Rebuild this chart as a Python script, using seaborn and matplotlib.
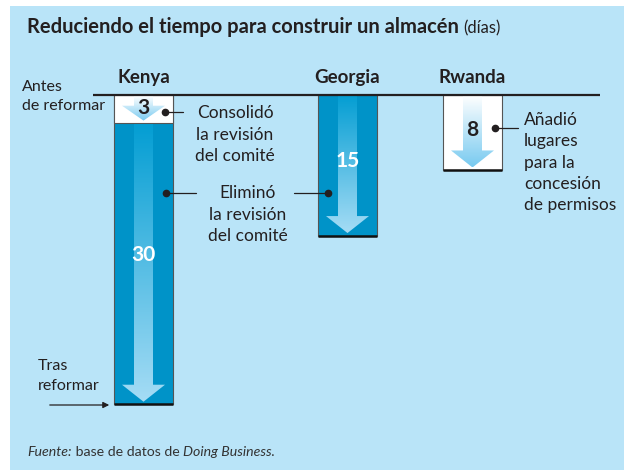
import matplotlib.pyplot as plt
import numpy as np
import pandas as pd
import seaborn as sns
from matplotlib.colors import LinearSegmentedColormap
from matplotlib.patches import Polygon, Rectangle

# Datos: días de cada trámite que se quitó con la reforma
paises = ["Kenya", "Georgia", "Rwanda"]
tramo_pais = ["Kenya", "Kenya", "Georgia", "Rwanda"]
tramo_reforma = ["Consolidó", "Eliminó", "Eliminó", "Añadió"]
tramo_dias = [3, 30, 15, 8]

titulo = "Reduciendo el tiempo para construir un almacén"
unidad = "(días)"

# Disposición (en píxeles de la figura)
W, H = 624, 470
Y0 = 95          # línea "Antes de reformar"
ESCALA = 9.37    # píxeles por día
centro_x = {"Kenya": 143.5, "Georgia": 347.5, "Rwanda": 472.5}
ANCHO = 59
colores = {"Eliminó": "#0093c8", "Consolidó": "white", "Añadió": "white"}
TINTA = "#231f20"


def dia(py):
    # píxel vertical -> días
    return (py - Y0) / ESCALA


df = pd.DataFrame({"pais": tramo_pais, "reforma": tramo_reforma, "dias": tramo_dias})
df["fin"] = df.groupby("pais")["dias"].cumsum()
df["inicio"] = df["fin"] - df["dias"]
df["x"] = df["pais"].map(centro_x)

sns.set_theme(style="white")
plt.rcParams["font.family"] = ["Lato", "DejaVu Sans"]

fig = plt.figure(figsize=(W / 100, H / 100), dpi=100)
fig.patch.set_facecolor("white")
fig.add_artist(Rectangle((10 / W, 0), 1, 1 - 6 / H, transform=fig.transFigure,
                         facecolor="#b9e4f8", edgecolor="none", zorder=0))

ax = fig.add_axes([0, 0, 1, 1])
ax.set_facecolor("none")

# Barras: primero el total por país, luego el tramo superior encima
paso = np.diff(sorted(centro_x.values())).min()
sns.barplot(data=df, x="x", y="fin", hue="reforma",
            hue_order=["Eliminó", "Consolidó", "Añadió"], palette=colores,
            native_scale=True, dodge=False, width=ANCHO / paso, saturation=1,
            errorbar=None, legend=False, edgecolor="#555555", linewidth=0.8,
            zorder=2, ax=ax)

# Flechas con degradado dentro de cada tramo
grad = np.linspace(0, 1, 200).reshape(-1, 1)
for _, r in df.iterrows():
    x = r["x"]
    top = Y0 + r["inicio"] * ESCALA + 1
    bot = Y0 + r["fin"] * ESCALA
    punta = bot - 2.5
    base = punta - min(17, 0.55 * (bot - top))
    pts = [(x - 9.5, top), (x + 9.5, top), (x + 9.5, base), (x + 21.5, base),
           (x, punta), (x - 21.5, base), (x - 9.5, base)]
    poly = Polygon([(px, dia(py)) for px, py in pts], closed=True,
                   facecolor="none", edgecolor="none", transform=ax.transData)
    ax.add_patch(poly)
    if r["reforma"] == "Eliminó":
        cmap = LinearSegmentedColormap.from_list("a", ["#049ed3", "#a5dcf5"])
    else:
        cmap = LinearSegmentedColormap.from_list("b", ["#ffffff", "#78caf0"])
    im = ax.imshow(grad, extent=[x - 22, x + 22, dia(punta), dia(top)],
                   origin="upper", cmap=cmap, aspect="auto", zorder=3,
                   interpolation="bilinear")
    im.set_clip_path(poly)

    color_num = "white" if r["reforma"] == "Eliminó" else TINTA
    ax.text(x, r["inicio"] + 0.47 * r["dias"], str(r["dias"]), ha="center",
            va="center", fontsize=15, fontweight="bold", color=color_num, zorder=6)

# Borde inferior grueso y línea de partida
totales = df.groupby("pais")["fin"].max()
for p in paises:
    x = centro_x[p]
    ax.hlines(totales[p], x - ANCHO / 2, x + ANCHO / 2, color="#111111", lw=1.8, zorder=4)
    ax.text(x, dia(77), p, ha="center", va="center", fontsize=13.5,
            fontweight="bold", color=TINTA)
ax.hlines(0, 93, 600, color=TINTA, lw=1.6, zorder=5)

ax.set_xlim(0, W)
ax.set_ylim(dia(H), dia(0))
ax.axis("off")

# Notas con punto y línea
def nota(xp, yp, x1, x2):
    ax.plot([x1, x2], [dia(yp), dia(yp)], color=TINTA, lw=0.9, zorder=6)
    ax.plot([xp], [dia(yp)], "o", color=TINTA, ms=4.5, zorder=7)

nota(165, 112, 165, 183)
ax.text(235, dia(134.5), "Consolidó\nla revisión\ndel comité", ha="center",
        va="center", fontsize=12.5, color=TINTA, linespacing=1.42)
nota(166, 193, 166, 196)
nota(328, 193, 294, 328)
ax.text(248, dia(214.5), "Eliminó\nla revisión\ndel comité", ha="center",
        va="center", fontsize=12.5, color=TINTA, linespacing=1.42)
nota(495, 128, 495, 518)
ax.text(524, dia(162.5), "Añadió\nlugares\npara la\nconcesión\nde permisos",
        ha="left", va="center", fontsize=12.5, color=TINTA, linespacing=1.42)

ax.text(22, dia(96.5), "Antes\nde reformar", ha="left", va="center",
        fontsize=11.5, color=TINTA, linespacing=1.5)
ax.text(38, dia(376), "Tras\nreformar", ha="left", va="center",
        fontsize=11.5, color=TINTA, linespacing=1.5)
ax.annotate("", xy=(112, dia(405)), xytext=(47, dia(405)),
            arrowprops=dict(arrowstyle="-|>", color=TINTA, lw=0.9,
                            mutation_scale=9))

# Título y fuente con estilos mezclados
def linea(x, y, partes):
    fig.canvas.draw()
    rend = fig.canvas.get_renderer()
    for texto, kw in partes:
        t = fig.text(x / W, 1 - y / H, texto, va="baseline", ha="left", **kw)
        x = t.get_window_extent(rend).x1

linea(27, 33, [(titulo + " ", dict(fontsize=14.5, fontweight="bold", color=TINTA)),
               (unidad, dict(fontsize=12, color=TINTA))])
linea(27, 456, [("Fuente:", dict(fontsize=10.2, style="italic", color="#333333")),
                (" base de datos de ", dict(fontsize=10.2, color="#333333")),
                ("Doing Business.", dict(fontsize=10.2, style="italic", color="#333333"))])

fig.savefig("out.png", dpi=100)
